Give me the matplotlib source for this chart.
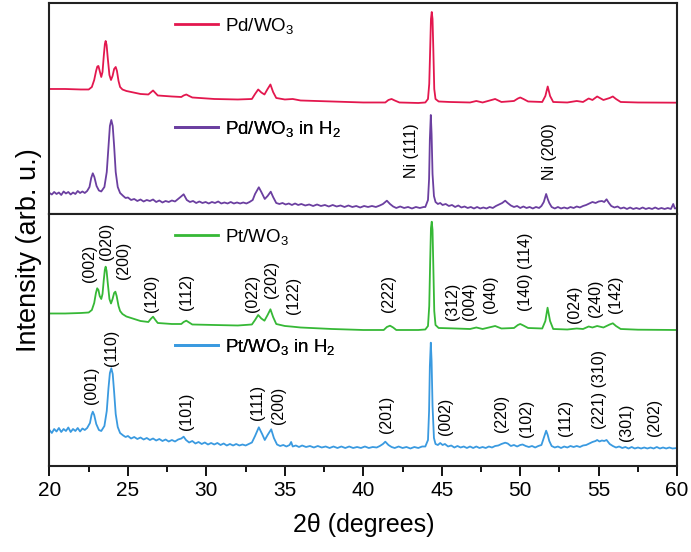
import matplotlib
matplotlib.use('Agg')
import matplotlib.pyplot as plt
from matplotlib.ticker import MultipleLocator

plt.rcParams['font.family'] = ['Liberation Sans', 'DejaVu Sans']
plt.rcParams['mathtext.fontset'] = 'custom'
plt.rcParams['mathtext.rm'] = 'Liberation Sans'
plt.rcParams['mathtext.it'] = 'Liberation Sans:italic'

# ---- data: (2theta, intensity in arb. units) ----
# Pd/WO3
pd_pts = [(20.0, 125), (21.0, 125), (22.0, 124.5), (22.5, 124.5), (22.7, 127), (22.85, 134),
          (22.97, 143), (23.05, 147.5), (23.12, 148), (23.2, 143), (23.3, 137), (23.38, 142),
          (23.46, 158), (23.53, 170), (23.58, 173), (23.64, 169), (23.72, 155), (23.82, 139),
          (23.92, 134), (24.02, 138), (24.12, 145), (24.22, 147), (24.3, 143), (24.4, 133),
          (24.5, 127), (24.65, 124.5), (24.9, 123), (25.8, 120), (26.3, 119.5), (26.45, 121.5),
          (26.6, 123.5), (26.75, 121), (26.9, 118.5), (27.8, 117.5), (28.4, 117), (28.55, 118.5),
          (28.72, 119.5), (28.9, 118), (29.1, 116.5), (30.5, 115), (32.0, 114.5), (32.9, 115),
          (33.1, 120), (33.3, 124.5), (33.5, 121.5), (33.7, 119.5), (33.9, 125), (34.08, 129.5),
          (34.25, 122), (34.45, 116), (35.0, 114.5), (35.5, 115), (36.0, 113.5), (38.0, 112.5),
          (40.0, 111.5), (41.4, 111.5), (41.6, 114), (41.8, 115), (42.0, 113.5), (42.3, 111.5),
          (43.5, 111), (43.95, 111.5), (44.12, 115), (44.2, 130), (44.26, 165), (44.31, 195),
          (44.36, 202), (44.41, 195), (44.46, 165), (44.52, 125), (44.6, 115), (44.8, 112.5),
          (45.5, 112), (46.8, 111.5), (47.2, 113), (47.6, 111.5), (48.4, 115), (48.8, 112),
          (49.6, 113), (49.85, 115.5), (50.0, 116.5), (50.2, 115), (50.5, 112.5), (51.4, 112),
          (51.6, 118), (51.75, 127.5), (51.9, 118), (52.1, 112), (53.0, 111.5), (53.6, 113),
          (54.0, 112), (54.36, 115.5), (54.6, 114), (54.9, 117.5), (55.3, 114), (55.7, 116),
          (55.9, 117.5), (56.1, 115), (56.4, 112), (57.5, 111.5), (60.0, 111.3)]

# Pd/WO3 in H2
pdh_pts = [(20.0, 21), (20.15, 19.5), (20.3, 22), (20.45, 20), (20.6, 21.5), (20.75, 19),
           (20.9, 22.5), (21.05, 20.5), (21.2, 22), (21.35, 19.5), (21.5, 21.5), (21.65, 20),
           (21.8, 23), (21.95, 21), (22.1, 22.5), (22.25, 21), (22.4, 23), (22.55, 27),
           (22.66, 36), (22.76, 40.7), (22.86, 37), (23.0, 28), (23.15, 23.5), (23.3, 22.5),
           (23.5, 27), (23.65, 42), (23.76, 68), (23.85, 88), (23.94, 94), (24.03, 88),
           (24.12, 68), (24.22, 42), (24.35, 27), (24.5, 21), (24.7, 18), (24.85, 16),
           (25.0, 16.5), (25.2, 14), (25.4, 15), (25.6, 13), (25.8, 14.5), (26.0, 12.5),
           (26.2, 14), (26.4, 13), (26.6, 14.5), (26.8, 12), (27.0, 13.5), (27.2, 11.5),
           (27.4, 13), (27.6, 12), (27.8, 13.5), (28.0, 12.5), (28.2, 15), (28.35, 17),
           (28.55, 19.7), (28.75, 14), (28.95, 12), (29.15, 13), (29.35, 11), (29.55, 12.5),
           (29.75, 11), (29.95, 12), (30.15, 10.5), (30.35, 12), (30.55, 11), (30.75, 12.5),
           (30.95, 10.5), (31.15, 11.5), (31.35, 10.5), (31.55, 12), (31.75, 10.5), (31.95, 11.5),
           (32.15, 10.5), (32.35, 11.5), (32.55, 10.5), (32.75, 12), (32.95, 14), (33.1, 20),
           (33.34, 26.7), (33.5, 22), (33.72, 15), (33.9, 18), (34.1, 22.3), (34.25, 17),
           (34.45, 11), (34.65, 10), (34.85, 11), (35.05, 9.5), (35.25, 10.5), (35.45, 9),
           (35.65, 10.5), (35.85, 9), (36.05, 10), (36.3, 8.5), (36.55, 9.5), (36.8, 8),
           (37.05, 9.5), (37.3, 8), (37.55, 9), (37.8, 7.5), (38.05, 9), (38.3, 7.5),
           (38.55, 8.5), (38.8, 7), (39.05, 8.5), (39.3, 7), (39.55, 8), (39.8, 6.5),
           (40.05, 8), (40.3, 7), (40.55, 8), (40.8, 7), (41.05, 8.5), (41.25, 10),
           (41.5, 13.3), (41.7, 10), (41.9, 7.5), (42.1, 6), (42.35, 7.5), (42.6, 6),
           (42.85, 7), (43.1, 5.5), (43.35, 7), (43.6, 6), (43.85, 7), (43.95, 7),
           (44.12, 14), (44.19, 35), (44.24, 75), (44.3, 99), (44.35, 80), (44.41, 40),
           (44.5, 18), (44.6, 12), (44.75, 10), (44.9, 11), (45.05, 9), (45.25, 10),
           (45.45, 8), (45.65, 9), (45.85, 7), (46.05, 8.5), (46.25, 6.5), (46.45, 7.5),
           (46.65, 6), (46.85, 7), (47.05, 5.5), (47.25, 7), (47.45, 5.5), (47.65, 6.5),
           (47.85, 5.5), (48.05, 7), (48.25, 6), (48.45, 8), (48.65, 9.5), (48.85, 11),
           (49.04, 13.3), (49.2, 11), (49.4, 8.5), (49.6, 7), (49.8, 8), (50.0, 6),
           (50.2, 7.5), (50.4, 6), (50.6, 7), (50.8, 5.5), (51.0, 7), (51.2, 6),
           (51.35, 8), (51.5, 12), (51.65, 20), (51.75, 15), (51.85, 11), (52.0, 7),
           (52.2, 5.5), (52.4, 7), (52.6, 5.5), (52.8, 6.5), (53.0, 5.5), (53.2, 7),
           (53.4, 6), (53.6, 7.5), (53.8, 6.5), (54.0, 8), (54.2, 9), (54.4, 10.5),
           (54.6, 12), (54.8, 11), (55.0, 12.5), (55.2, 13), (55.35, 12), (55.5, 14.7),
           (55.65, 11), (55.8, 8), (56.0, 6.5), (56.2, 7.5), (56.4, 5.5), (56.6, 6.5),
           (56.8, 5), (57.0, 6.5), (57.2, 5), (57.4, 6), (57.6, 5), (57.8, 6.5),
           (58.0, 5), (58.2, 6), (58.4, 5), (58.6, 6.5), (58.8, 5), (59.0, 6),
           (59.2, 5), (59.4, 6), (59.6, 5), (59.75, 10), (59.85, 5.5), (60.0, 6)]

# Pt/WO3
pt_pts = [(20.0, 152.5), (21.0, 152.5), (22.0, 153), (22.5, 153.5), (22.7, 156), (22.85, 163),
          (22.96, 173), (23.04, 177.7), (23.12, 176), (23.2, 170), (23.3, 167), (23.38, 172),
          (23.46, 186), (23.53, 196.5), (23.58, 199.3), (23.64, 195), (23.72, 182), (23.82, 167),
          (23.92, 162.5), (24.02, 167), (24.12, 173), (24.2, 174.3), (24.28, 170), (24.4, 160),
          (24.5, 155), (24.65, 152), (24.9, 149.5), (25.8, 145), (26.3, 144), (26.45, 147),
          (26.6, 149.3), (26.75, 146), (26.9, 143), (27.8, 142), (28.4, 142), (28.55, 144),
          (28.72, 145.3), (28.9, 143.5), (29.1, 141.5), (30.5, 141), (32.0, 140.5), (32.9, 141.5),
          (33.1, 146), (33.3, 151), (33.5, 147.5), (33.7, 145.3), (33.9, 151), (34.08, 156.7),
          (34.25, 149), (34.45, 142), (35.0, 140), (35.5, 139.3), (36.0, 138.5), (38.0, 137),
          (40.0, 136), (41.3, 136), (41.5, 139), (41.7, 140.3), (41.9, 138.5), (42.1, 136),
          (43.5, 136), (43.95, 136.5), (44.12, 140), (44.2, 160), (44.26, 205), (44.31, 238),
          (44.36, 244.3), (44.41, 236), (44.46, 200), (44.52, 155), (44.6, 141), (44.8, 138),
          (45.5, 137.7), (46.8, 137), (47.2, 138.5), (47.6, 137), (48.4, 140), (48.8, 137.5),
          (49.6, 138), (49.85, 141), (50.0, 142), (50.2, 140.5), (50.5, 138), (51.4, 137.5),
          (51.6, 145), (51.74, 158.3), (51.9, 145), (52.1, 137), (53.0, 136.5), (53.6, 137.5),
          (54.0, 137), (54.36, 139.5), (54.6, 138.5), (54.9, 140), (55.3, 138.5), (55.7, 141.5),
          (55.9, 142.7), (56.1, 140), (56.4, 137), (57.5, 136.3), (60.0, 136)]

# Pt/WO3 in H2
pth_pts = [(20.0, 36), (20.15, 33), (20.3, 37), (20.45, 34.5), (20.6, 38), (20.75, 34),
           (20.9, 37), (21.05, 35), (21.2, 38.5), (21.35, 34), (21.5, 37), (21.65, 35),
           (21.8, 38), (21.95, 34.5), (22.1, 37.5), (22.25, 36), (22.4, 38), (22.58, 43),
           (22.68, 51), (22.76, 54.3), (22.85, 51), (22.98, 42), (23.15, 36), (23.3, 35),
           (23.5, 40), (23.65, 55), (23.76, 78), (23.85, 93), (23.94, 97.7), (24.03, 92),
           (24.12, 74), (24.22, 52), (24.35, 39), (24.5, 33), (24.7, 30.5), (24.85, 29),
           (25.0, 30), (25.2, 27.5), (25.4, 29), (25.6, 27), (25.8, 28.5), (26.0, 26.5),
           (26.2, 28), (26.4, 26), (26.6, 27.5), (26.8, 25.5), (27.0, 27), (27.2, 25),
           (27.4, 26.5), (27.6, 24.5), (27.8, 26), (28.0, 24.5), (28.2, 26.5), (28.4, 27.5),
           (28.55, 29.3), (28.7, 26), (28.9, 23.5), (29.1, 25), (29.3, 22.5), (29.5, 24),
           (29.7, 22), (29.9, 23.5), (30.1, 21.5), (30.3, 23), (30.5, 21.5), (30.7, 23),
           (30.9, 21), (31.1, 22.5), (31.3, 20.5), (31.5, 22), (31.7, 20.5), (31.9, 22),
           (32.1, 20.5), (32.3, 21.5), (32.5, 20.5), (32.7, 22), (32.9, 23.5), (33.1, 30),
           (33.34, 38.7), (33.55, 32), (33.72, 26), (33.9, 31), (34.13, 36.7), (34.3, 28),
           (34.5, 21.5), (34.7, 20), (34.9, 21), (35.1, 19.5), (35.3, 21), (35.4, 24),
           (35.5, 19.5), (35.7, 20.5), (35.9, 19), (36.1, 20.5), (36.35, 19), (36.6, 20),
           (36.85, 18.5), (37.1, 20), (37.35, 18.5), (37.6, 19.5), (37.85, 18), (38.1, 19.5),
           (38.35, 18), (38.6, 19.5), (38.85, 18), (39.1, 19.5), (39.35, 18), (39.6, 19),
           (39.85, 18), (40.1, 19.5), (40.35, 18), (40.6, 19), (40.85, 18.5), (41.05, 20),
           (41.25, 22), (41.4, 24.3), (41.6, 21), (41.8, 19), (42.0, 18), (42.25, 19.5),
           (42.5, 18), (42.75, 19), (43.0, 17.5), (43.25, 19), (43.5, 18), (43.75, 19.5),
           (43.95, 19.5), (44.12, 26), (44.19, 55), (44.24, 100), (44.3, 123.3), (44.35, 105),
           (44.41, 60), (44.5, 28), (44.6, 22), (44.75, 21), (44.9, 23), (45.05, 21),
           (45.2, 22), (45.4, 19.5), (45.6, 20.5), (45.8, 18.5), (46.0, 20), (46.2, 18.5),
           (46.4, 19.5), (46.6, 18), (46.8, 19.5), (47.0, 18), (47.2, 19.5), (47.4, 18),
           (47.6, 19), (47.8, 18), (48.0, 19.5), (48.2, 18.5), (48.4, 20), (48.6, 20.5),
           (48.8, 22), (49.04, 23.3), (49.2, 22.5), (49.4, 20), (49.6, 21), (49.8, 19.5),
           (50.0, 21), (50.15, 21.5), (50.35, 20), (50.55, 19), (50.75, 20), (50.95, 18.5),
           (51.15, 20), (51.35, 21), (51.5, 28), (51.65, 35.3), (51.75, 31), (51.85, 25),
           (52.0, 20), (52.2, 18.5), (52.4, 19.5), (52.6, 18), (52.8, 19.5), (53.0, 18.5),
           (53.2, 20), (53.4, 19), (53.6, 20), (53.8, 19), (54.0, 20.5), (54.2, 21),
           (54.4, 22.5), (54.6, 24), (54.8, 25), (54.9, 26), (55.05, 24.5), (55.2, 25.5),
           (55.35, 25), (55.5, 26), (55.7, 22), (55.9, 20), (56.1, 18.5), (56.3, 19.5),
           (56.5, 18), (56.7, 19), (56.9, 17.5), (57.1, 19), (57.3, 17.5), (57.5, 18.5),
           (57.7, 17.5), (57.9, 18.5), (58.1, 17.5), (58.3, 18.5), (58.5, 17.5), (58.7, 19),
           (58.9, 17.5), (59.1, 18.5), (59.3, 17.5), (59.5, 18.5), (59.7, 17.5), (60.0, 18)]

# peak labels: (text, 2theta, height)
ni_labels = [('Ni (111)', 43.1, 63), ('Ni (200)', 51.84, 62)]
pt_labels = [('(002)', 22.54, 202.7), ('(020)', 23.65, 225), ('(200)', 24.7, 206),
             ('(120)', 26.51, 173), ('(112)', 28.74, 174.3), ('(022)', 32.95, 172.5),
             ('(202)', 34.16, 187), ('(122)', 35.54, 171), ('(222)', 41.59, 172),
             ('(312)', 45.7, 165), ('(004)', 46.76, 165), ('(040)', 48.08, 172),
             ('(140) (114)', 50.31, 194.3), ('(024)', 53.45, 162), ('(240)', 54.77, 168),
             ('(142)', 56.04, 172)]
pth_labels = [('(001)', 22.69, 81), ('(110)', 23.96, 118), ('(101)', 28.7, 55),
              ('(111)', 33.27, 64), ('(200)', 34.58, 61), ('(201)', 41.49, 52),
              ('(002)', 45.21, 49.3), ('(220)', 48.78, 53), ('(102)', 50.41, 48),
              ('(112)', 52.86, 48), ('(221) (310)', 55.02, 76), ('(301)', 56.74, 44),
              ('(202)', 58.55, 49)]

red = '#e3174e'
purple = '#6b3fa0'
green = '#36b836'
blue = '#3a9ae0'

fig = plt.figure(figsize=(6.91, 5.52), dpi=100)
gs = fig.add_gridspec(2, 1, height_ratios=[211, 252], hspace=0,
                      left=0.0716, right=0.98, top=0.9946, bottom=0.1558)
ax1 = fig.add_subplot(gs[0])
ax2 = fig.add_subplot(gs[1], sharex=ax1)


def draw(ax, pts, color, label):
    xs, ys = zip(*pts)
    line, = ax.plot(xs, ys, color=color, lw=1.3, label=label)
    return line


l1 = draw(ax1, pd_pts, red, 'Pd/WO$_3$')
l2 = draw(ax1, pdh_pts, purple, 'Pd/WO$_3$ in H$_2$')
l3 = draw(ax2, pt_pts, green, 'Pt/WO$_3$')
l4 = draw(ax2, pth_pts, blue, 'Pt/WO$_3$ in H$_2$')

ax1.set_ylim(0, 211)
ax2.set_ylim(0, 252)
ax2.set_xlim(20, 60)

leg_kw = dict(frameon=False, fontsize=13.5, handlelength=2.3, handletextpad=0.35,
              borderpad=0, borderaxespad=0, loc='center left')
legs = []
for ax, line, ypos in [(ax1, l1, 0.893), (ax1, l2, 0.403), (ax2, l3, 0.91), (ax2, l4, 0.474)]:
    lg = ax.legend(handles=[line], bbox_to_anchor=(0.2, ypos), **leg_kw)
    ax.add_artist(lg)
    for h in lg.legend_handles:
        h.set_linewidth(2)

for txt, x, y in ni_labels:
    ax1.text(x, y, txt, rotation=90, ha='center', va='center', fontsize=11.5)
for txt, x, y in pt_labels + pth_labels:
    ax2.text(x, y, txt, rotation=90, ha='center', va='center', fontsize=11.5)

for ax in (ax1, ax2):
    for s in ax.spines.values():
        s.set_linewidth(1.5)
        s.set_color('#222222')
    ax.set_yticks([])

ax1.tick_params(axis='x', which='both', bottom=False, labelbottom=False)
ax2.xaxis.set_major_locator(MultipleLocator(5))
ax2.xaxis.set_minor_locator(MultipleLocator(2.5))
ax2.tick_params(axis='x', which='major', direction='out', length=7, width=1.3, labelsize=15, pad=4)
ax2.tick_params(axis='x', which='minor', direction='out', length=4.5, width=1.3)

ax2.set_xlabel('2θ (degrees)', fontsize=18, labelpad=9)
fig.text(0.042, 0.547, 'Intensity (arb. u.)', rotation=90, ha='center', va='center', fontsize=19.5)

plt.savefig('out.png', dpi=100)
